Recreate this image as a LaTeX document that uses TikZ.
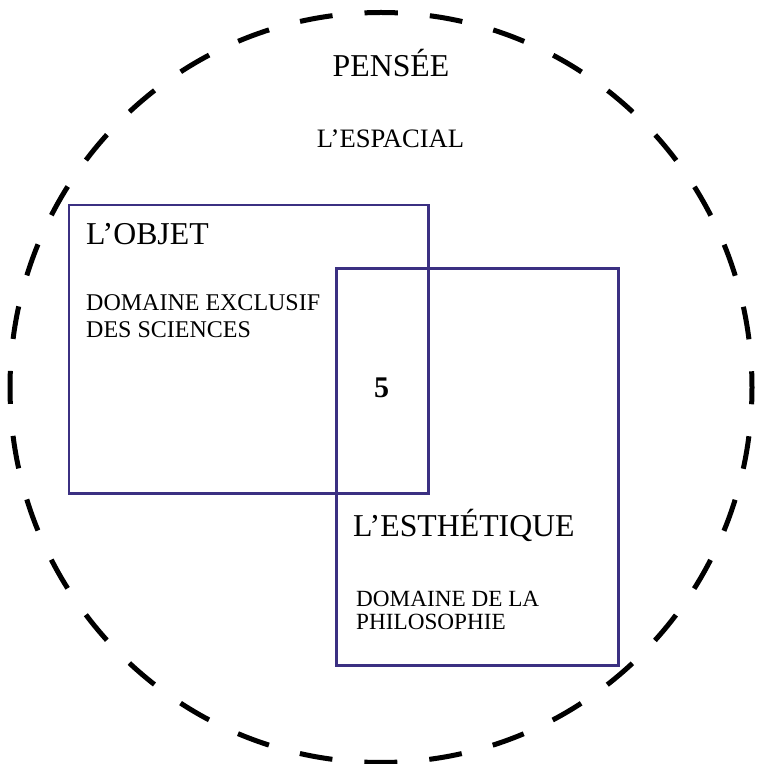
\documentclass[tikz,border=0pt]{standalone}
\usepackage{fontspec}
\setmainfont{Liberation Serif}
\definecolor{boxcol}{RGB}{59,48,130}
\tikzset{
  dashring/.style={line width=5pt, dash pattern=on 33pt off 32.1pt, dash phase=16.5pt},
  boxline/.style={draw=boxcol, line width=2.6pt},
  bigtxt/.style={inner sep=0pt, font=\fontsize{31.8}{34}\selectfont},
  midtxt/.style={inner sep=0pt, font=\fontsize{26.6}{29}\selectfont},
  smltxt/.style={inner sep=0pt, anchor=base west, font=\fontsize{24}{26}\selectfont},
  phltxt/.style={inner sep=0pt, anchor=base west, font=\fontsize{23.2}{25}\selectfont},
}
\begin{document}
\begin{tikzpicture}[x=1pt,y=1pt]
\useasboundingbox (0,0) rectangle (757,764);
% dashed circle
\draw[dashring] (381,751.5) arc[start angle=90, end angle=450, x radius=371, y radius=375];
% rectangles
\draw[boxline] (69,559) rectangle (428.5,270.5);
\draw[boxline] (336.7,495.7) rectangle (618.3,98.3);
% texts
\node[bigtxt, anchor=base] (pensee) at (391,687.3) {PENSÉE};
\node[midtxt, anchor=base] (espacial) at (390.5,616) {L’ESPACIAL};
\node[bigtxt, anchor=base west] (objet) at (86,519.7) {L’OBJET};
\node[smltxt] (dom1) at (86,453) {DOMAINE EXCLUSIF};
\node[smltxt] (dom2) at (86,426.3) {DES SCIENCES};
\node[inner sep=0pt, anchor=base, font=\fontsize{30}{32}\selectfont\bfseries] (five) at (381.7,366.7) {5};
\node[bigtxt, anchor=base west] (esth) at (353,227.3) {L’ESTHÉTIQUE};
\node[phltxt] (phil1) at (356,157.3) {DOMAINE DE LA};
\node[phltxt] (phil2) at (356,134.7) {PHILOSOPHIE};
\end{tikzpicture}
\end{document}
